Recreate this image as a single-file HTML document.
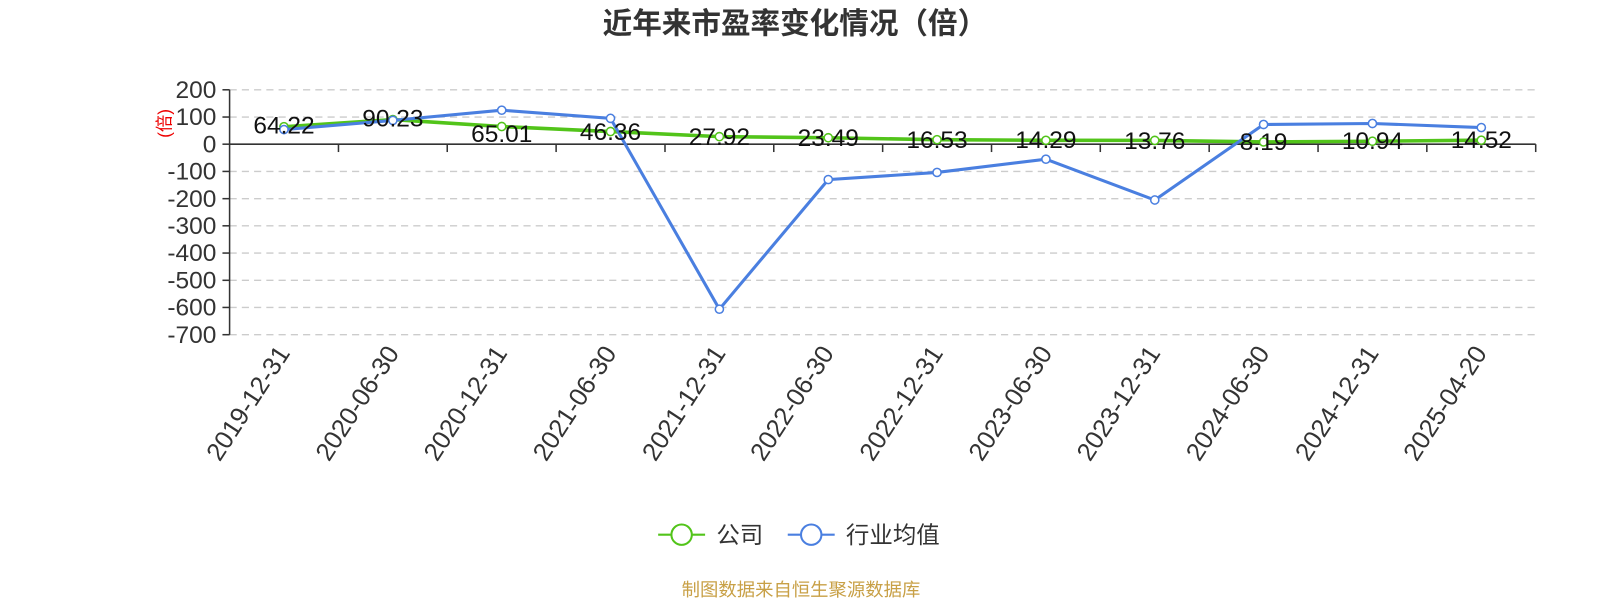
<!DOCTYPE html>
<html><head><meta charset="utf-8"><style>
html,body{margin:0;padding:0;background:#fff;}
svg{display:block;font-family:"Liberation Sans","Noto Sans CJK SC",sans-serif;}
</style></head><body>
<svg width="1600" height="600" viewBox="0 0 1600 600" xmlns="http://www.w3.org/2000/svg">
<g transform="scale(1.0204)">
<text x="779" y="33" text-anchor="middle" font-size="29" font-weight="bold" fill="#333">近年来市盈率变化情况（倍）</text>
<g stroke="#ccc" stroke-width="1.3" stroke-dasharray="7,5">
<line x1="225" y1="88" x2="1505" y2="88"/><line x1="225" y1="114.7" x2="1505" y2="114.7"/>
<line x1="225" y1="168" x2="1505" y2="168"/><line x1="225" y1="194.7" x2="1505" y2="194.7"/>
<line x1="225" y1="221.3" x2="1505" y2="221.3"/><line x1="225" y1="248" x2="1505" y2="248"/>
<line x1="225" y1="274.7" x2="1505" y2="274.7"/><line x1="225" y1="301.3" x2="1505" y2="301.3"/>
<line x1="225" y1="328" x2="1505" y2="328"/>
</g>
<g stroke="#333" stroke-width="1.5">
<line x1="225" y1="88" x2="225" y2="328"/>
<line x1="225" y1="141.3" x2="1505" y2="141.3"/>
<line x1="218" y1="88" x2="225" y2="88"/><line x1="218" y1="114.7" x2="225" y2="114.7"/><line x1="218" y1="141.3" x2="225" y2="141.3"/><line x1="218" y1="168" x2="225" y2="168"/><line x1="218" y1="194.7" x2="225" y2="194.7"/><line x1="218" y1="221.3" x2="225" y2="221.3"/><line x1="218" y1="248" x2="225" y2="248"/><line x1="218" y1="274.7" x2="225" y2="274.7"/><line x1="218" y1="301.3" x2="225" y2="301.3"/><line x1="218" y1="328" x2="225" y2="328"/>
<line x1="331.7" y1="141.3" x2="331.7" y2="149"/><line x1="438.3" y1="141.3" x2="438.3" y2="149"/><line x1="545" y1="141.3" x2="545" y2="149"/><line x1="651.7" y1="141.3" x2="651.7" y2="149"/><line x1="758.3" y1="141.3" x2="758.3" y2="149"/><line x1="865" y1="141.3" x2="865" y2="149"/><line x1="971.7" y1="141.3" x2="971.7" y2="149"/><line x1="1078.3" y1="141.3" x2="1078.3" y2="149"/><line x1="1185" y1="141.3" x2="1185" y2="149"/><line x1="1291.7" y1="141.3" x2="1291.7" y2="149"/><line x1="1398.3" y1="141.3" x2="1398.3" y2="149"/><line x1="1505" y1="141.3" x2="1505" y2="149"/>
</g>
<g font-size="24" fill="#333" text-anchor="end">
<text x="212" y="96">200</text><text x="212" y="122.7">100</text><text x="212" y="149.3">0</text><text x="212" y="176">-100</text><text x="212" y="202.7">-200</text><text x="212" y="229.3">-300</text><text x="212" y="256">-400</text><text x="212" y="282.7">-500</text><text x="212" y="309.3">-600</text><text x="212" y="336">-700</text>
</g>
<text transform="translate(167,121) rotate(-90)" text-anchor="middle" font-size="17" fill="#e00">(倍)</text>
<g font-size="25" fill="#333" text-anchor="end">
<text transform="translate(285,346) rotate(-57)">2019-12-31</text>
<text transform="translate(392,346) rotate(-57)">2020-06-30</text>
<text transform="translate(498,346) rotate(-57)">2020-12-31</text>
<text transform="translate(605,346) rotate(-57)">2021-06-30</text>
<text transform="translate(712,346) rotate(-57)">2021-12-31</text>
<text transform="translate(818,346) rotate(-57)">2022-06-30</text>
<text transform="translate(925,346) rotate(-57)">2022-12-31</text>
<text transform="translate(1032,346) rotate(-57)">2023-06-30</text>
<text transform="translate(1138,346) rotate(-57)">2023-12-31</text>
<text transform="translate(1245,346) rotate(-57)">2024-06-30</text>
<text transform="translate(1352,346) rotate(-57)">2024-12-31</text>
<text transform="translate(1458,346) rotate(-57)">2025-04-20</text>
</g>
<polyline fill="none" stroke="#52c41a" stroke-width="3.5" points="278.3,124.2 385,117.2 491.7,124 598.3,128.9 705,133.9 811.7,135 918.3,136.9 1025,137.5 1131.7,137.6 1238.3,139.1 1345,138.4 1451.7,137.4"/>
<g fill="#fff" stroke="#52c41a" stroke-width="1.5">
<circle cx="278.3" cy="124.2" r="4"/><circle cx="385" cy="117.2" r="4"/><circle cx="491.7" cy="124" r="4"/><circle cx="598.3" cy="128.9" r="4"/><circle cx="705" cy="133.9" r="4"/><circle cx="811.7" cy="135" r="4"/><circle cx="918.3" cy="136.9" r="4"/><circle cx="1025" cy="137.5" r="4"/><circle cx="1131.7" cy="137.6" r="4"/><circle cx="1238.3" cy="139.1" r="4"/><circle cx="1345" cy="138.4" r="4"/><circle cx="1451.7" cy="137.4" r="4"/>
</g>
<polyline fill="none" stroke="#4a7fe0" stroke-width="3" points="278.3,127 385,118 491.7,108 598.3,116 705,303 811.7,176 918.3,169 1025,156 1131.7,196 1238.3,122 1345,121 1451.7,125"/>
<g fill="#fff" stroke="#4a7fe0" stroke-width="1.5">
<circle cx="278.3" cy="127" r="4"/><circle cx="385" cy="118" r="4"/><circle cx="491.7" cy="108" r="4"/><circle cx="598.3" cy="116" r="4"/><circle cx="705" cy="303" r="4"/><circle cx="811.7" cy="176" r="4"/><circle cx="918.3" cy="169" r="4"/><circle cx="1025" cy="156" r="4"/><circle cx="1131.7" cy="196" r="4"/><circle cx="1238.3" cy="122" r="4"/><circle cx="1345" cy="121" r="4"/><circle cx="1451.7" cy="125" r="4"/>
</g>
<g font-size="24" fill="#111" text-anchor="middle">
<text x="278.3" y="131">64.22</text><text x="385" y="124">90.23</text><text x="491.7" y="139">65.01</text><text x="598.3" y="137">46.36</text><text x="705" y="142">27.92</text><text x="811.7" y="143">23.49</text><text x="918.3" y="145">16.53</text><text x="1025" y="145">14.29</text><text x="1131.7" y="146">13.76</text><text x="1238.3" y="147">8.19</text><text x="1345" y="146">10.94</text><text x="1451.7" y="145">14.52</text>
</g>
<line x1="645" y1="524" x2="691" y2="524" stroke="#52c41a" stroke-width="2"/>
<circle cx="668" cy="524" r="10" fill="#fff" stroke="#52c41a" stroke-width="2"/>
<text x="702" y="532" font-size="23" fill="#333">公司</text>
<line x1="772" y1="524" x2="818" y2="524" stroke="#4a7fe0" stroke-width="2"/>
<circle cx="795" cy="524" r="10" fill="#fff" stroke="#4a7fe0" stroke-width="2"/>
<text x="829" y="532" font-size="23" fill="#333">行业均值</text>
<text x="785" y="584" text-anchor="middle" font-size="18" fill="#c8a046">制图数据来自恒生聚源数据库</text>
</g>
</svg>
</body></html>
